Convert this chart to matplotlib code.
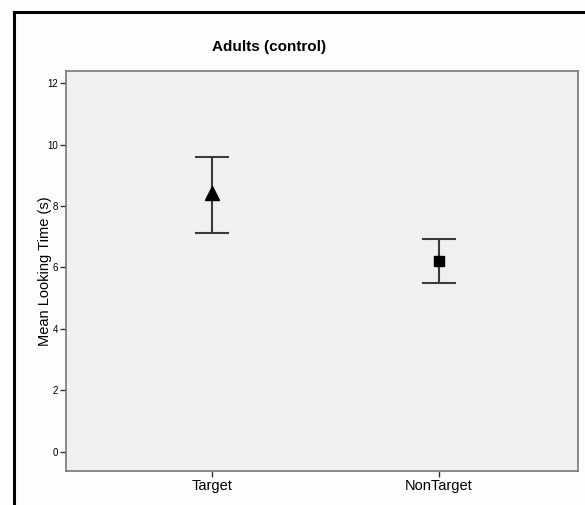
import matplotlib.pyplot as plt
from matplotlib.patches import Rectangle

plt.rcParams["font.family"] = ["Liberation Sans", "DejaVu Sans"]

# data
conditions = ["Target", "NonTarget"]
means = [8.42, 6.21]
upper = [9.60, 6.92]
lower = [7.12, 5.49]
markers = ["^", "s"]
yticks = [0, 2, 4, 6, 8, 10, 12]

fig = plt.figure(figsize=(5.85, 5.05), dpi=100, facecolor="#fdfdfd")
W, H = 585, 505
ax = fig.add_axes([66 / W, 1 - 471 / H, (578 - 66) / W, (471 - 71) / H])
ax.set_facecolor("#f0f0f0")

for i, (m, up, lo, mk) in enumerate(zip(means, upper, lower, markers)):
    ax.errorbar([i], [m], yerr=[[m - lo], [up - m]], fmt="none",
                ecolor="#3a3a3a", elinewidth=1.5, capsize=12.2, capthick=1.5)
    ax.plot([i], [m], marker=mk, color="black",
            markersize=10 if mk == "^" else 7.5, linestyle="none")

ax.set_xlim(-0.645, 1.613)
ax.set_ylim(-0.63, 12.4)
ax.set_xticks(range(len(conditions)))
ax.set_xticklabels(conditions, fontsize=10.5)
ax.set_yticks(yticks)
ax.set_yticklabels([str(t) for t in yticks], fontsize=7)
ax.tick_params(axis="both", direction="out", length=4, width=1, color="#333333",
               pad=1.5)
for sp in ax.spines.values():
    sp.set_color("#777777")
    sp.set_linewidth(1.2)

ax.set_ylabel("Mean Looking Time (s)", fontsize=10.5)
ax.yaxis.set_label_coords(-0.027, 0.5)
fig.text(269 / W, 1 - 47 / H, "Adults (control)", ha="center", va="center",
         fontsize=11, fontweight="bold")

# outer frame, cut off at right and bottom
fig.patches.append(Rectangle((14 / W, -0.05), 1.0, 1 - 12 / H + 0.05,
                             transform=fig.transFigure, fill=False,
                             edgecolor="black", linewidth=2.2))

fig.savefig("out.png", dpi=100, facecolor=fig.get_facecolor())
